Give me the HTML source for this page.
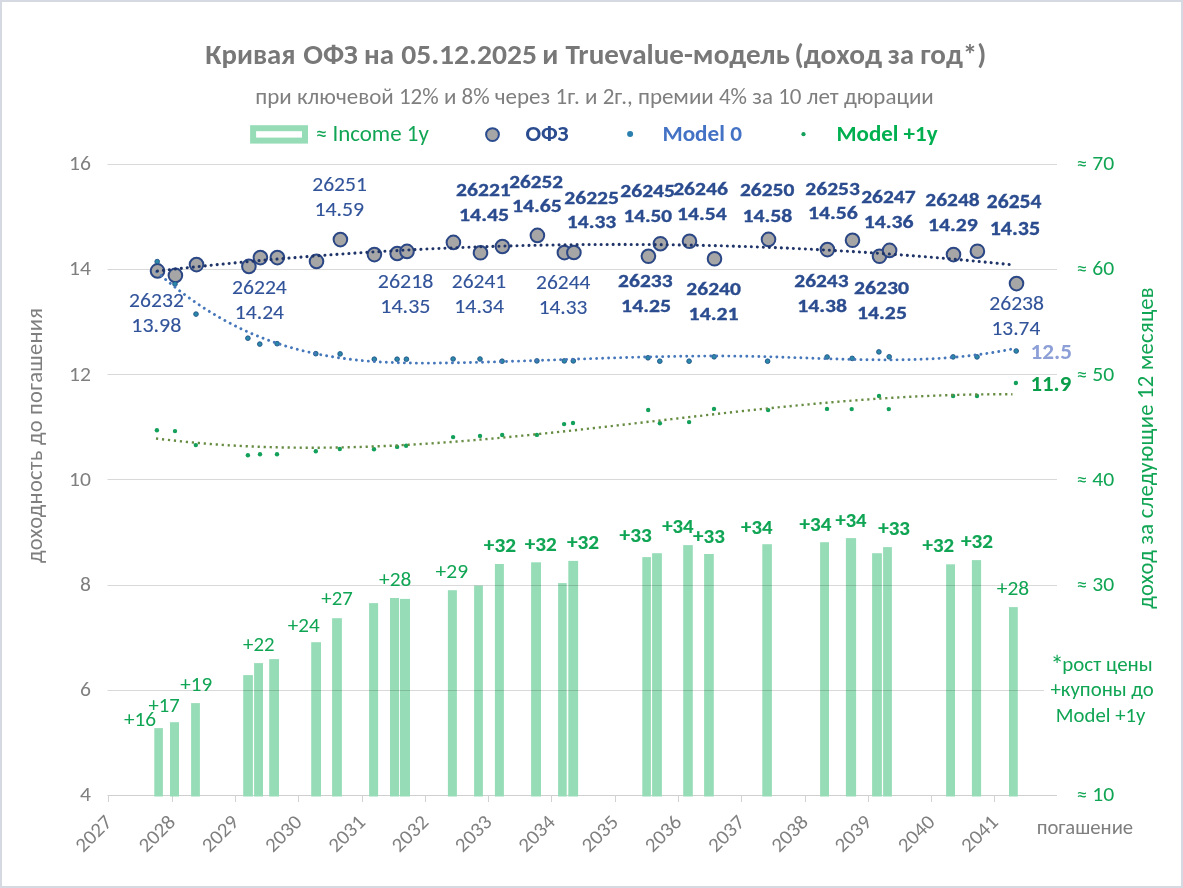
<!DOCTYPE html>
<html><head><meta charset="utf-8"><title>Кривая ОФЗ</title>
<style>html,body{margin:0;padding:0;background:#fff;}svg{display:block;}</style>
</head><body>
<svg width="1183" height="888" viewBox="0 0 1183 888" font-family="Calibri, Carlito, 'Liberation Sans', sans-serif">
<rect x="0" y="0" width="1183" height="888" fill="#ffffff"/>
<rect x="1" y="1" width="1181" height="886" fill="none" stroke="#d5dae2" stroke-width="2"/>
<line x1="107.5" y1="795.5" x2="1057.0" y2="795.5" stroke="#cfcfcf" stroke-width="1.1"/>
<line x1="108.5" y1="795.5" x2="108.5" y2="802.0" stroke="#d2d2d2" stroke-width="1"/>
<line x1="172.5" y1="795.5" x2="172.5" y2="802.0" stroke="#d2d2d2" stroke-width="1"/>
<line x1="235.5" y1="795.5" x2="235.5" y2="802.0" stroke="#d2d2d2" stroke-width="1"/>
<line x1="298.5" y1="795.5" x2="298.5" y2="802.0" stroke="#d2d2d2" stroke-width="1"/>
<line x1="362.5" y1="795.5" x2="362.5" y2="802.0" stroke="#d2d2d2" stroke-width="1"/>
<line x1="425.5" y1="795.5" x2="425.5" y2="802.0" stroke="#d2d2d2" stroke-width="1"/>
<line x1="488.5" y1="795.5" x2="488.5" y2="802.0" stroke="#d2d2d2" stroke-width="1"/>
<line x1="551.5" y1="795.5" x2="551.5" y2="802.0" stroke="#d2d2d2" stroke-width="1"/>
<line x1="615.5" y1="795.5" x2="615.5" y2="802.0" stroke="#d2d2d2" stroke-width="1"/>
<line x1="678.5" y1="795.5" x2="678.5" y2="802.0" stroke="#d2d2d2" stroke-width="1"/>
<line x1="741.5" y1="795.5" x2="741.5" y2="802.0" stroke="#d2d2d2" stroke-width="1"/>
<line x1="805.5" y1="795.5" x2="805.5" y2="802.0" stroke="#d2d2d2" stroke-width="1"/>
<line x1="868.5" y1="795.5" x2="868.5" y2="802.0" stroke="#d2d2d2" stroke-width="1"/>
<line x1="931.5" y1="795.5" x2="931.5" y2="802.0" stroke="#d2d2d2" stroke-width="1"/>
<line x1="994.5" y1="795.5" x2="994.5" y2="802.0" stroke="#d2d2d2" stroke-width="1"/>
<rect x="154.3" y="728.1" width="8.6" height="68.4" fill="#96ddb7"/>
<rect x="170.0" y="722.2" width="9.0" height="74.3" fill="#96ddb7"/>
<rect x="191.1" y="703.1" width="8.8" height="93.4" fill="#96ddb7"/>
<rect x="243.2" y="675.1" width="9.7" height="121.4" fill="#96ddb7"/>
<rect x="254.1" y="663.1" width="8.9" height="133.4" fill="#96ddb7"/>
<rect x="269.2" y="659.1" width="9.8" height="137.4" fill="#96ddb7"/>
<rect x="311.2" y="642.2" width="9.8" height="154.3" fill="#96ddb7"/>
<rect x="332.1" y="618.2" width="9.8" height="178.3" fill="#96ddb7"/>
<rect x="369.1" y="603.1" width="9.0" height="193.4" fill="#96ddb7"/>
<rect x="390.0" y="598.0" width="9.0" height="198.5" fill="#96ddb7"/>
<rect x="399.9" y="598.9" width="10.1" height="197.6" fill="#96ddb7"/>
<rect x="447.9" y="590.2" width="9.0" height="206.3" fill="#96ddb7"/>
<rect x="474.1" y="585.6" width="8.8" height="210.9" fill="#96ddb7"/>
<rect x="494.9" y="564.0" width="9.0" height="232.5" fill="#96ddb7"/>
<rect x="531.1" y="562.3" width="9.9" height="234.2" fill="#96ddb7"/>
<rect x="558.1" y="583.1" width="8.6" height="213.4" fill="#96ddb7"/>
<rect x="568.3" y="560.9" width="9.8" height="235.6" fill="#96ddb7"/>
<rect x="642.3" y="557.1" width="8.6" height="239.4" fill="#96ddb7"/>
<rect x="652.1" y="553.2" width="9.8" height="243.3" fill="#96ddb7"/>
<rect x="683.2" y="545.1" width="9.6" height="251.4" fill="#96ddb7"/>
<rect x="704.1" y="554.0" width="9.7" height="242.5" fill="#96ddb7"/>
<rect x="762.3" y="544.2" width="9.6" height="252.3" fill="#96ddb7"/>
<rect x="820.1" y="542.2" width="8.9" height="254.3" fill="#96ddb7"/>
<rect x="845.9" y="538.1" width="10.2" height="258.4" fill="#96ddb7"/>
<rect x="872.1" y="553.2" width="9.8" height="243.3" fill="#96ddb7"/>
<rect x="883.1" y="547.1" width="8.8" height="249.4" fill="#96ddb7"/>
<rect x="946.1" y="564.3" width="8.9" height="232.2" fill="#96ddb7"/>
<rect x="971.9" y="560.1" width="9.2" height="236.4" fill="#96ddb7"/>
<rect x="1009.0" y="607.1" width="8.8" height="189.4" fill="#96ddb7"/>
<line x1="107.5" y1="164.5" x2="1057.0" y2="164.5" stroke="#d9d9d9" stroke-width="1" style="mix-blend-mode:multiply"/>
<line x1="107.5" y1="269.5" x2="1057.0" y2="269.5" stroke="#d9d9d9" stroke-width="1" style="mix-blend-mode:multiply"/>
<line x1="107.5" y1="374.5" x2="1057.0" y2="374.5" stroke="#d9d9d9" stroke-width="1" style="mix-blend-mode:multiply"/>
<line x1="107.5" y1="479.5" x2="1057.0" y2="479.5" stroke="#d9d9d9" stroke-width="1" style="mix-blend-mode:multiply"/>
<line x1="107.5" y1="585.5" x2="1057.0" y2="585.5" stroke="#d9d9d9" stroke-width="1" style="mix-blend-mode:multiply"/>
<line x1="107.5" y1="690.5" x2="1044.0" y2="690.5" stroke="#d9d9d9" stroke-width="1" style="mix-blend-mode:multiply"/>
<text x="69.02" y="170.20" font-size="19.80" fill="#7f7f7f" stroke="#7f7f7f" stroke-width="0.00" textLength="21.88" lengthAdjust="spacingAndGlyphs">16</text>
<text x="69.02" y="275.40" font-size="19.80" fill="#7f7f7f" stroke="#7f7f7f" stroke-width="0.00" textLength="21.88" lengthAdjust="spacingAndGlyphs">14</text>
<text x="69.02" y="380.60" font-size="19.80" fill="#7f7f7f" stroke="#7f7f7f" stroke-width="0.00" textLength="21.88" lengthAdjust="spacingAndGlyphs">12</text>
<text x="69.02" y="485.80" font-size="19.80" fill="#7f7f7f" stroke="#7f7f7f" stroke-width="0.00" textLength="21.88" lengthAdjust="spacingAndGlyphs">10</text>
<text x="79.96" y="591.00" font-size="19.80" fill="#7f7f7f" stroke="#7f7f7f" stroke-width="0.00" textLength="10.94" lengthAdjust="spacingAndGlyphs">8</text>
<text x="79.96" y="696.20" font-size="19.80" fill="#7f7f7f" stroke="#7f7f7f" stroke-width="0.00" textLength="10.94" lengthAdjust="spacingAndGlyphs">6</text>
<text x="79.96" y="801.40" font-size="19.80" fill="#7f7f7f" stroke="#7f7f7f" stroke-width="0.00" textLength="10.94" lengthAdjust="spacingAndGlyphs">4</text>
<text x="1076.54" y="170.20" font-size="19.80" fill="#10a554" stroke="#10a554" stroke-width="0.00" textLength="37.62" lengthAdjust="spacingAndGlyphs">≈ 70</text>
<text x="1076.54" y="275.40" font-size="19.80" fill="#10a554" stroke="#10a554" stroke-width="0.00" textLength="37.62" lengthAdjust="spacingAndGlyphs">≈ 60</text>
<text x="1076.54" y="380.60" font-size="19.80" fill="#10a554" stroke="#10a554" stroke-width="0.00" textLength="37.62" lengthAdjust="spacingAndGlyphs">≈ 50</text>
<text x="1076.54" y="485.80" font-size="19.80" fill="#10a554" stroke="#10a554" stroke-width="0.00" textLength="37.62" lengthAdjust="spacingAndGlyphs">≈ 40</text>
<text x="1076.54" y="591.00" font-size="19.80" fill="#10a554" stroke="#10a554" stroke-width="0.00" textLength="37.62" lengthAdjust="spacingAndGlyphs">≈ 30</text>
<text x="1076.54" y="801.40" font-size="19.80" fill="#10a554" stroke="#10a554" stroke-width="0.00" textLength="37.62" lengthAdjust="spacingAndGlyphs">≈ 10</text>
<text transform="rotate(-90)" x="-562.92" y="41.80" font-size="22.60" fill="#7f7f7f" stroke="#7f7f7f" stroke-width="0.00" textLength="254.85" lengthAdjust="spacing">доходность до погашения</text>
<text transform="rotate(-90)" x="-608.72" y="1153.10" font-size="22.60" fill="#10a554" stroke="#10a554" stroke-width="0.00" textLength="321.27" lengthAdjust="spacing">доход за следующие 12 месяцев</text>
<text transform="translate(113.30 823.20) rotate(-45)" x="0" y="0" font-size="20.2" fill="#7f7f7f" stroke="#7f7f7f" stroke-width="0.00" text-anchor="end" textLength="42.59" lengthAdjust="spacingAndGlyphs">2027</text>
<text transform="translate(176.58 823.20) rotate(-45)" x="0" y="0" font-size="20.2" fill="#7f7f7f" stroke="#7f7f7f" stroke-width="0.00" text-anchor="end" textLength="42.59" lengthAdjust="spacingAndGlyphs">2028</text>
<text transform="translate(239.86 823.20) rotate(-45)" x="0" y="0" font-size="20.2" fill="#7f7f7f" stroke="#7f7f7f" stroke-width="0.00" text-anchor="end" textLength="42.59" lengthAdjust="spacingAndGlyphs">2029</text>
<text transform="translate(303.14 823.20) rotate(-45)" x="0" y="0" font-size="20.2" fill="#7f7f7f" stroke="#7f7f7f" stroke-width="0.00" text-anchor="end" textLength="42.59" lengthAdjust="spacingAndGlyphs">2030</text>
<text transform="translate(366.42 823.20) rotate(-45)" x="0" y="0" font-size="20.2" fill="#7f7f7f" stroke="#7f7f7f" stroke-width="0.00" text-anchor="end" textLength="42.59" lengthAdjust="spacingAndGlyphs">2031</text>
<text transform="translate(429.70 823.20) rotate(-45)" x="0" y="0" font-size="20.2" fill="#7f7f7f" stroke="#7f7f7f" stroke-width="0.00" text-anchor="end" textLength="42.59" lengthAdjust="spacingAndGlyphs">2032</text>
<text transform="translate(492.98 823.20) rotate(-45)" x="0" y="0" font-size="20.2" fill="#7f7f7f" stroke="#7f7f7f" stroke-width="0.00" text-anchor="end" textLength="42.59" lengthAdjust="spacingAndGlyphs">2033</text>
<text transform="translate(556.26 823.20) rotate(-45)" x="0" y="0" font-size="20.2" fill="#7f7f7f" stroke="#7f7f7f" stroke-width="0.00" text-anchor="end" textLength="42.59" lengthAdjust="spacingAndGlyphs">2034</text>
<text transform="translate(619.54 823.20) rotate(-45)" x="0" y="0" font-size="20.2" fill="#7f7f7f" stroke="#7f7f7f" stroke-width="0.00" text-anchor="end" textLength="42.59" lengthAdjust="spacingAndGlyphs">2035</text>
<text transform="translate(682.82 823.20) rotate(-45)" x="0" y="0" font-size="20.2" fill="#7f7f7f" stroke="#7f7f7f" stroke-width="0.00" text-anchor="end" textLength="42.59" lengthAdjust="spacingAndGlyphs">2036</text>
<text transform="translate(746.10 823.20) rotate(-45)" x="0" y="0" font-size="20.2" fill="#7f7f7f" stroke="#7f7f7f" stroke-width="0.00" text-anchor="end" textLength="42.59" lengthAdjust="spacingAndGlyphs">2037</text>
<text transform="translate(809.38 823.20) rotate(-45)" x="0" y="0" font-size="20.2" fill="#7f7f7f" stroke="#7f7f7f" stroke-width="0.00" text-anchor="end" textLength="42.59" lengthAdjust="spacingAndGlyphs">2038</text>
<text transform="translate(872.66 823.20) rotate(-45)" x="0" y="0" font-size="20.2" fill="#7f7f7f" stroke="#7f7f7f" stroke-width="0.00" text-anchor="end" textLength="42.59" lengthAdjust="spacingAndGlyphs">2039</text>
<text transform="translate(935.94 823.20) rotate(-45)" x="0" y="0" font-size="20.2" fill="#7f7f7f" stroke="#7f7f7f" stroke-width="0.00" text-anchor="end" textLength="42.59" lengthAdjust="spacingAndGlyphs">2040</text>
<text transform="translate(999.22 823.20) rotate(-45)" x="0" y="0" font-size="20.2" fill="#7f7f7f" stroke="#7f7f7f" stroke-width="0.00" text-anchor="end" textLength="42.59" lengthAdjust="spacingAndGlyphs">2041</text>
<text x="1036.63" y="833.50" font-size="20.50" fill="#7f7f7f" stroke="#7f7f7f" stroke-width="0.00" textLength="96.52" lengthAdjust="spacingAndGlyphs">погашение</text>
<text x="205.37" y="63.60" font-size="27.40" font-weight="bold" fill="#787878" stroke="#787878" stroke-width="0.00" textLength="90.18" lengthAdjust="spacingAndGlyphs">Кривая</text>
<text x="303.22" y="63.60" font-size="27.40" font-weight="bold" fill="#787878" stroke="#787878" stroke-width="0.00" textLength="54.62" lengthAdjust="spacingAndGlyphs">ОФЗ</text>
<text x="363.95" y="63.60" font-size="27.40" font-weight="bold" fill="#787878" stroke="#787878" stroke-width="0.00" textLength="30.05" lengthAdjust="spacingAndGlyphs">на</text>
<text x="401.19" y="63.60" font-size="27.40" font-weight="bold" fill="#787878" stroke="#787878" stroke-width="0.00" textLength="135.81" lengthAdjust="spacingAndGlyphs">05.12.2025</text>
<text x="542.27" y="63.60" font-size="27.40" font-weight="bold" fill="#787878" stroke="#787878" stroke-width="0.00" textLength="16.07" lengthAdjust="spacingAndGlyphs">и</text>
<text x="565.45" y="63.60" font-size="27.40" font-weight="bold" fill="#787878" stroke="#787878" stroke-width="0.00" textLength="224.43" lengthAdjust="spacingAndGlyphs">Truevalue-модель</text>
<text x="794.62" y="63.60" font-size="27.40" font-weight="bold" fill="#787878" stroke="#787878" stroke-width="0.00" textLength="87.59" lengthAdjust="spacingAndGlyphs">(доход</text>
<text x="887.80" y="63.60" font-size="27.40" font-weight="bold" fill="#787878" stroke="#787878" stroke-width="0.00" textLength="26.07" lengthAdjust="spacingAndGlyphs">за</text>
<text x="920.27" y="63.60" font-size="27.40" font-weight="bold" fill="#787878" stroke="#787878" stroke-width="0.00" textLength="66.09" lengthAdjust="spacingAndGlyphs">год*)</text>
<text x="255.28" y="103.80" font-size="22.60" fill="#7f7f7f" stroke="#7f7f7f" stroke-width="0.00" textLength="678.48" lengthAdjust="spacingAndGlyphs">при ключевой 12% и 8% через 1г. и 2г., премии 4% за 10 лет дюрации</text>
<rect x="253.1" y="128.2" width="51.9" height="12.4" fill="none" stroke="#96ddb7" stroke-width="6"/>
<text x="315.77" y="140.50" font-size="22.80" fill="#10a554" stroke="#10a554" stroke-width="0.00" textLength="113.09" lengthAdjust="spacingAndGlyphs">≈ Income 1y</text>
<circle cx="492.5" cy="134.6" r="6.4" fill="#a6a6a6" stroke="#2b4c8f" stroke-width="2"/>
<text x="525.46" y="140.50" font-size="22.80" font-weight="bold" fill="#2b4c8f" stroke="#2b4c8f" stroke-width="0.00" textLength="43.22" lengthAdjust="spacingAndGlyphs">ОФЗ</text>
<circle cx="630.1" cy="133.9" r="3.0" fill="#2a7fae"/>
<text x="662.43" y="140.80" font-size="22.80" font-weight="bold" fill="#4472c4" stroke="#4472c4" stroke-width="0.00" textLength="79.45" lengthAdjust="spacingAndGlyphs">Model 0</text>
<circle cx="803.5" cy="134.2" r="2.1" fill="#13a05a"/>
<text x="836.44" y="140.70" font-size="22.80" font-weight="bold" fill="#00b050" stroke="#00b050" stroke-width="0.00" textLength="101.17" lengthAdjust="spacingAndGlyphs">Model +1y</text>
<circle cx="157.5" cy="270.9" r="6.8" fill="#a6a6a6" stroke="#2b4785" stroke-width="2.0"/>
<circle cx="175.4" cy="275.4" r="6.8" fill="#a6a6a6" stroke="#2b4785" stroke-width="2.0"/>
<circle cx="196.5" cy="264.6" r="6.8" fill="#a6a6a6" stroke="#2b4785" stroke-width="2.0"/>
<circle cx="248.9" cy="266.4" r="6.8" fill="#a6a6a6" stroke="#2b4785" stroke-width="2.0"/>
<circle cx="260.4" cy="257.6" r="6.8" fill="#a6a6a6" stroke="#2b4785" stroke-width="2.0"/>
<circle cx="277.4" cy="257.6" r="6.8" fill="#a6a6a6" stroke="#2b4785" stroke-width="2.0"/>
<circle cx="316.5" cy="261.4" r="6.8" fill="#a6a6a6" stroke="#2b4785" stroke-width="2.0"/>
<circle cx="340.4" cy="239.6" r="6.8" fill="#a6a6a6" stroke="#2b4785" stroke-width="2.0"/>
<circle cx="374.4" cy="254.6" r="6.8" fill="#a6a6a6" stroke="#2b4785" stroke-width="2.0"/>
<circle cx="397.2" cy="253.5" r="6.8" fill="#a6a6a6" stroke="#2b4785" stroke-width="2.0"/>
<circle cx="407.0" cy="251.4" r="6.8" fill="#a6a6a6" stroke="#2b4785" stroke-width="2.0"/>
<circle cx="453.4" cy="242.4" r="6.8" fill="#a6a6a6" stroke="#2b4785" stroke-width="2.0"/>
<circle cx="480.5" cy="252.8" r="6.8" fill="#a6a6a6" stroke="#2b4785" stroke-width="2.0"/>
<circle cx="502.4" cy="246.5" r="6.8" fill="#a6a6a6" stroke="#2b4785" stroke-width="2.0"/>
<circle cx="537.4" cy="235.4" r="6.8" fill="#a6a6a6" stroke="#2b4785" stroke-width="2.0"/>
<circle cx="564.4" cy="252.6" r="6.8" fill="#a6a6a6" stroke="#2b4785" stroke-width="2.0"/>
<circle cx="573.9" cy="252.5" r="6.8" fill="#a6a6a6" stroke="#2b4785" stroke-width="2.0"/>
<circle cx="648.4" cy="256.3" r="6.8" fill="#a6a6a6" stroke="#2b4785" stroke-width="2.0"/>
<circle cx="660.4" cy="243.7" r="6.8" fill="#a6a6a6" stroke="#2b4785" stroke-width="2.0"/>
<circle cx="689.5" cy="241.3" r="6.8" fill="#a6a6a6" stroke="#2b4785" stroke-width="2.0"/>
<circle cx="714.5" cy="258.8" r="6.8" fill="#a6a6a6" stroke="#2b4785" stroke-width="2.0"/>
<circle cx="768.5" cy="239.4" r="6.8" fill="#a6a6a6" stroke="#2b4785" stroke-width="2.0"/>
<circle cx="827.4" cy="249.6" r="6.8" fill="#a6a6a6" stroke="#2b4785" stroke-width="2.0"/>
<circle cx="852.5" cy="240.3" r="6.8" fill="#a6a6a6" stroke="#2b4785" stroke-width="2.0"/>
<circle cx="879.5" cy="256.3" r="6.8" fill="#a6a6a6" stroke="#2b4785" stroke-width="2.0"/>
<circle cx="889.6" cy="250.4" r="6.8" fill="#a6a6a6" stroke="#2b4785" stroke-width="2.0"/>
<circle cx="953.5" cy="254.6" r="6.8" fill="#a6a6a6" stroke="#2b4785" stroke-width="2.0"/>
<circle cx="977.4" cy="251.2" r="6.8" fill="#a6a6a6" stroke="#2b4785" stroke-width="2.0"/>
<circle cx="1016.5" cy="283.6" r="6.8" fill="#a6a6a6" stroke="#2b4785" stroke-width="2.0"/>
<circle cx="157.2" cy="261.6" r="2.35" fill="#2a88a8" stroke="#22548a" stroke-width="0.9"/>
<circle cx="175.0" cy="284.0" r="2.35" fill="#2a88a8" stroke="#22548a" stroke-width="0.9"/>
<circle cx="196.0" cy="314.1" r="2.35" fill="#2a88a8" stroke="#22548a" stroke-width="0.9"/>
<circle cx="247.9" cy="338.2" r="2.35" fill="#2a88a8" stroke="#22548a" stroke-width="0.9"/>
<circle cx="259.8" cy="344.1" r="2.35" fill="#2a88a8" stroke="#22548a" stroke-width="0.9"/>
<circle cx="277.1" cy="343.7" r="2.35" fill="#2a88a8" stroke="#22548a" stroke-width="0.9"/>
<circle cx="315.8" cy="353.7" r="2.35" fill="#2a88a8" stroke="#22548a" stroke-width="0.9"/>
<circle cx="340.1" cy="353.9" r="2.35" fill="#2a88a8" stroke="#22548a" stroke-width="0.9"/>
<circle cx="374.3" cy="359.2" r="2.35" fill="#2a88a8" stroke="#22548a" stroke-width="0.9"/>
<circle cx="397.1" cy="359.2" r="2.35" fill="#2a88a8" stroke="#22548a" stroke-width="0.9"/>
<circle cx="406.4" cy="359.2" r="2.35" fill="#2a88a8" stroke="#22548a" stroke-width="0.9"/>
<circle cx="453.1" cy="359.0" r="2.35" fill="#2a88a8" stroke="#22548a" stroke-width="0.9"/>
<circle cx="480.0" cy="359.0" r="2.35" fill="#2a88a8" stroke="#22548a" stroke-width="0.9"/>
<circle cx="502.1" cy="361.2" r="2.35" fill="#2a88a8" stroke="#22548a" stroke-width="0.9"/>
<circle cx="536.9" cy="360.9" r="2.35" fill="#2a88a8" stroke="#22548a" stroke-width="0.9"/>
<circle cx="564.3" cy="360.9" r="2.35" fill="#2a88a8" stroke="#22548a" stroke-width="0.9"/>
<circle cx="573.3" cy="360.9" r="2.35" fill="#2a88a8" stroke="#22548a" stroke-width="0.9"/>
<circle cx="648.0" cy="357.8" r="2.35" fill="#2a88a8" stroke="#22548a" stroke-width="0.9"/>
<circle cx="659.8" cy="361.2" r="2.35" fill="#2a88a8" stroke="#22548a" stroke-width="0.9"/>
<circle cx="689.1" cy="361.2" r="2.35" fill="#2a88a8" stroke="#22548a" stroke-width="0.9"/>
<circle cx="714.1" cy="356.8" r="2.35" fill="#2a88a8" stroke="#22548a" stroke-width="0.9"/>
<circle cx="767.6" cy="361.2" r="2.35" fill="#2a88a8" stroke="#22548a" stroke-width="0.9"/>
<circle cx="827.1" cy="357.0" r="2.35" fill="#2a88a8" stroke="#22548a" stroke-width="0.9"/>
<circle cx="852.2" cy="358.4" r="2.35" fill="#2a88a8" stroke="#22548a" stroke-width="0.9"/>
<circle cx="878.9" cy="351.9" r="2.35" fill="#2a88a8" stroke="#22548a" stroke-width="0.9"/>
<circle cx="889.2" cy="356.8" r="2.35" fill="#2a88a8" stroke="#22548a" stroke-width="0.9"/>
<circle cx="953.1" cy="356.9" r="2.35" fill="#2a88a8" stroke="#22548a" stroke-width="0.9"/>
<circle cx="977.0" cy="356.9" r="2.35" fill="#2a88a8" stroke="#22548a" stroke-width="0.9"/>
<circle cx="1016.2" cy="351.0" r="2.35" fill="#2a88a8" stroke="#22548a" stroke-width="0.9"/>
<circle cx="156.9" cy="430.2" r="2.2" fill="#13a05a"/>
<circle cx="175.0" cy="431.1" r="2.2" fill="#13a05a"/>
<circle cx="195.8" cy="445.1" r="2.2" fill="#13a05a"/>
<circle cx="247.9" cy="455.2" r="2.2" fill="#13a05a"/>
<circle cx="260.0" cy="454.2" r="2.2" fill="#13a05a"/>
<circle cx="277.0" cy="454.2" r="2.2" fill="#13a05a"/>
<circle cx="315.8" cy="451.3" r="2.2" fill="#13a05a"/>
<circle cx="339.8" cy="449.0" r="2.2" fill="#13a05a"/>
<circle cx="374.0" cy="449.2" r="2.2" fill="#13a05a"/>
<circle cx="397.1" cy="446.9" r="2.2" fill="#13a05a"/>
<circle cx="406.1" cy="445.8" r="2.2" fill="#13a05a"/>
<circle cx="453.1" cy="437.1" r="2.2" fill="#13a05a"/>
<circle cx="480.0" cy="435.9" r="2.2" fill="#13a05a"/>
<circle cx="502.2" cy="435.0" r="2.2" fill="#13a05a"/>
<circle cx="536.9" cy="434.9" r="2.2" fill="#13a05a"/>
<circle cx="564.1" cy="424.1" r="2.2" fill="#13a05a"/>
<circle cx="573.0" cy="423.0" r="2.2" fill="#13a05a"/>
<circle cx="648.2" cy="410.0" r="2.2" fill="#13a05a"/>
<circle cx="659.9" cy="423.2" r="2.2" fill="#13a05a"/>
<circle cx="689.1" cy="422.1" r="2.2" fill="#13a05a"/>
<circle cx="714.0" cy="408.9" r="2.2" fill="#13a05a"/>
<circle cx="768.1" cy="410.1" r="2.2" fill="#13a05a"/>
<circle cx="827.0" cy="408.9" r="2.2" fill="#13a05a"/>
<circle cx="851.7" cy="409.1" r="2.2" fill="#13a05a"/>
<circle cx="879.0" cy="396.0" r="2.2" fill="#13a05a"/>
<circle cx="888.8" cy="409.1" r="2.2" fill="#13a05a"/>
<circle cx="953.1" cy="396.0" r="2.2" fill="#13a05a"/>
<circle cx="977.0" cy="396.0" r="2.2" fill="#13a05a"/>
<circle cx="1015.9" cy="383.0" r="2.2" fill="#13a05a"/>
<path d="M156.0 438.44 L158.9 438.80 L161.7 439.16 L164.6 439.50 L167.5 439.84 L170.3 440.17 L173.2 440.49 L176.1 440.81 L178.9 441.12 L181.8 441.42 L184.6 441.71 L187.5 441.99 L190.4 442.27 L193.2 442.54 L196.1 442.80 L199.0 443.05 L201.8 443.30 L204.7 443.54 L207.6 443.77 L210.4 444.00 L213.3 444.22 L216.2 444.43 L219.0 444.63 L221.9 444.83 L224.7 445.02 L227.6 445.20 L230.5 445.38 L233.3 445.55 L236.2 445.71 L239.1 445.87 L241.9 446.02 L244.8 446.16 L247.7 446.30 L250.5 446.43 L253.4 446.55 L256.3 446.67 L259.1 446.78 L262.0 446.88 L264.9 446.98 L267.7 447.07 L270.6 447.15 L273.4 447.23 L276.3 447.31 L279.2 447.37 L282.0 447.43 L284.9 447.49 L287.8 447.54 L290.6 447.58 L293.5 447.62 L296.4 447.65 L299.2 447.67 L302.1 447.69 L305.0 447.71 L307.8 447.71 L310.7 447.72 L313.6 447.71 L316.4 447.71 L319.3 447.69 L322.1 447.67 L325.0 447.65 L327.9 447.62 L330.7 447.58 L333.6 447.54 L336.5 447.50 L339.3 447.45 L342.2 447.39 L345.1 447.33 L347.9 447.27 L350.8 447.20 L353.7 447.12 L356.5 447.04 L359.4 446.96 L362.2 446.87 L365.1 446.77 L368.0 446.67 L370.8 446.57 L373.7 446.46 L376.6 446.35 L379.4 446.23 L382.3 446.11 L385.2 445.98 L388.0 445.85 L390.9 445.72 L393.8 445.58 L396.6 445.43 L399.5 445.29 L402.4 445.13 L405.2 444.98 L408.1 444.82 L410.9 444.66 L413.8 444.49 L416.7 444.32 L419.5 444.14 L422.4 443.96 L425.3 443.78 L428.1 443.59 L431.0 443.40 L433.9 443.21 L436.7 443.01 L439.6 442.81 L442.5 442.61 L445.3 442.40 L448.2 442.19 L451.0 441.98 L453.9 441.76 L456.8 441.54 L459.6 441.31 L462.5 441.09 L465.4 440.86 L468.2 440.62 L471.1 440.39 L474.0 440.15 L476.8 439.90 L479.7 439.66 L482.6 439.41 L485.4 439.16 L488.3 438.91 L491.2 438.65 L494.0 438.39 L496.9 438.13 L499.7 437.87 L502.6 437.60 L505.5 437.33 L508.3 437.06 L511.2 436.79 L514.1 436.51 L516.9 436.23 L519.8 435.95 L522.7 435.67 L525.5 435.39 L528.4 435.10 L531.3 434.81 L534.1 434.52 L537.0 434.23 L539.8 433.93 L542.7 433.64 L545.6 433.34 L548.4 433.04 L551.3 432.74 L554.2 432.43 L557.0 432.13 L559.9 431.82 L562.8 431.51 L565.6 431.20 L568.5 430.89 L571.4 430.58 L574.2 430.26 L577.1 429.95 L580.0 429.63 L582.8 429.32 L585.7 429.00 L588.5 428.68 L591.4 428.36 L594.3 428.03 L597.1 427.71 L600.0 427.39 L602.9 427.06 L605.7 426.74 L608.6 426.41 L611.5 426.08 L614.3 425.75 L617.2 425.43 L620.1 425.10 L622.9 424.77 L625.8 424.44 L628.7 424.11 L631.5 423.77 L634.4 423.44 L637.2 423.11 L640.1 422.78 L643.0 422.45 L645.8 422.11 L648.7 421.78 L651.6 421.45 L654.4 421.12 L657.3 420.78 L660.2 420.45 L663.0 420.12 L665.9 419.78 L668.8 419.45 L671.6 419.12 L674.5 418.79 L677.3 418.45 L680.2 418.12 L683.1 417.79 L685.9 417.46 L688.8 417.13 L691.7 416.80 L694.5 416.47 L697.4 416.14 L700.3 415.82 L703.1 415.49 L706.0 415.16 L708.9 414.84 L711.7 414.51 L714.6 414.19 L717.5 413.87 L720.3 413.54 L723.2 413.22 L726.0 412.90 L728.9 412.59 L731.8 412.27 L734.6 411.95 L737.5 411.64 L740.4 411.32 L743.2 411.01 L746.1 410.70 L749.0 410.39 L751.8 410.08 L754.7 409.78 L757.6 409.47 L760.4 409.17 L763.3 408.87 L766.1 408.57 L769.0 408.27 L771.9 407.98 L774.7 407.68 L777.6 407.39 L780.5 407.10 L783.3 406.81 L786.2 406.53 L789.1 406.24 L791.9 405.96 L794.8 405.68 L797.7 405.40 L800.5 405.13 L803.4 404.85 L806.3 404.58 L809.1 404.32 L812.0 404.05 L814.8 403.79 L817.7 403.53 L820.6 403.27 L823.4 403.01 L826.3 402.76 L829.2 402.51 L832.0 402.26 L834.9 402.02 L837.8 401.78 L840.6 401.54 L843.5 401.30 L846.4 401.07 L849.2 400.84 L852.1 400.62 L854.9 400.39 L857.8 400.17 L860.7 399.96 L863.5 399.74 L866.4 399.53 L869.3 399.33 L872.1 399.12 L875.0 398.92 L877.9 398.73 L880.7 398.53 L883.6 398.35 L886.5 398.16 L889.3 397.98 L892.2 397.80 L895.1 397.63 L897.9 397.46 L900.8 397.29 L903.6 397.13 L906.5 396.97 L909.4 396.82 L912.2 396.67 L915.1 396.52 L918.0 396.38 L920.8 396.24 L923.7 396.11 L926.6 395.98 L929.4 395.85 L932.3 395.73 L935.2 395.61 L938.0 395.50 L940.9 395.40 L943.8 395.29 L946.6 395.20 L949.5 395.10 L952.3 395.01 L955.2 394.93 L958.1 394.85 L960.9 394.78 L963.8 394.71 L966.7 394.64 L969.5 394.59 L972.4 394.53 L975.3 394.48 L978.1 394.44 L981.0 394.40 L983.9 394.37 L986.7 394.34 L989.6 394.32 L992.4 394.30 L995.3 394.29 L998.2 394.28 L1001.0 394.28 L1003.9 394.28 L1006.8 394.29 L1009.6 394.31 L1012.5 394.33" fill="none" stroke="#668c42" stroke-width="2.40" stroke-dasharray="2.2 3.8" stroke-linecap="butt"/>
<path d="M156.6 271.64 L159.5 274.19 L162.3 276.69 L165.2 279.14 L168.0 281.55 L170.9 283.91 L173.8 286.22 L176.6 288.50 L179.5 290.72 L182.3 292.91 L185.2 295.05 L188.1 297.14 L190.9 299.20 L193.8 301.21 L196.7 303.18 L199.5 305.11 L202.4 307.00 L205.2 308.85 L208.1 310.66 L211.0 312.42 L213.8 314.15 L216.7 315.84 L219.5 317.50 L222.4 319.11 L225.3 320.69 L228.1 322.23 L231.0 323.73 L233.8 325.20 L236.7 326.63 L239.6 328.03 L242.4 329.39 L245.3 330.71 L248.1 332.01 L251.0 333.27 L253.9 334.49 L256.7 335.68 L259.6 336.84 L262.5 337.97 L265.3 339.07 L268.2 340.13 L271.0 341.17 L273.9 342.17 L276.8 343.15 L279.6 344.09 L282.5 345.01 L285.3 345.90 L288.2 346.76 L291.1 347.59 L293.9 348.39 L296.8 349.17 L299.6 349.92 L302.5 350.65 L305.4 351.35 L308.2 352.02 L311.1 352.67 L313.9 353.30 L316.8 353.90 L319.7 354.47 L322.5 355.03 L325.4 355.56 L328.3 356.07 L331.1 356.56 L334.0 357.02 L336.8 357.47 L339.7 357.89 L342.6 358.30 L345.4 358.68 L348.3 359.05 L351.1 359.39 L354.0 359.72 L356.9 360.03 L359.7 360.32 L362.6 360.60 L365.4 360.86 L368.3 361.10 L371.2 361.33 L374.0 361.54 L376.9 361.73 L379.7 361.91 L382.6 362.08 L385.5 362.23 L388.3 362.37 L391.2 362.50 L394.1 362.61 L396.9 362.71 L399.8 362.80 L402.6 362.88 L405.5 362.95 L408.4 363.01 L411.2 363.06 L414.1 363.09 L416.9 363.12 L419.8 363.14 L422.7 363.15 L425.5 363.16 L428.4 363.15 L431.2 363.14 L434.1 363.13 L437.0 363.10 L439.8 363.07 L442.7 363.04 L445.5 363.00 L448.4 362.95 L451.3 362.91 L454.1 362.85 L457.0 362.80 L459.9 362.74 L462.7 362.68 L465.6 362.62 L468.4 362.55 L471.3 362.48 L474.2 362.41 L477.0 362.34 L479.9 362.27 L482.7 362.19 L485.6 362.12 L488.5 362.04 L491.3 361.96 L494.2 361.88 L497.0 361.79 L499.9 361.71 L502.8 361.62 L505.6 361.53 L508.5 361.44 L511.3 361.35 L514.2 361.26 L517.1 361.17 L519.9 361.07 L522.8 360.98 L525.7 360.88 L528.5 360.79 L531.4 360.69 L534.2 360.59 L537.1 360.50 L540.0 360.40 L542.8 360.30 L545.7 360.20 L548.5 360.10 L551.4 360.00 L554.3 359.90 L557.1 359.80 L560.0 359.69 L562.8 359.59 L565.7 359.49 L568.6 359.39 L571.4 359.29 L574.3 359.19 L577.1 359.09 L580.0 358.99 L582.9 358.90 L585.7 358.80 L588.6 358.70 L591.5 358.60 L594.3 358.51 L597.2 358.41 L600.0 358.32 L602.9 358.22 L605.8 358.13 L608.6 358.04 L611.5 357.95 L614.3 357.86 L617.2 357.77 L620.1 357.69 L622.9 357.60 L625.8 357.52 L628.6 357.44 L631.5 357.36 L634.4 357.28 L637.2 357.20 L640.1 357.13 L642.9 357.06 L645.8 356.98 L648.7 356.92 L651.5 356.85 L654.4 356.78 L657.3 356.72 L660.1 356.66 L663.0 356.60 L665.8 356.55 L668.7 356.50 L671.6 356.45 L674.4 356.40 L677.3 356.36 L680.1 356.31 L683.0 356.28 L685.9 356.24 L688.7 356.21 L691.6 356.18 L694.4 356.15 L697.3 356.13 L700.2 356.11 L703.0 356.09 L705.9 356.08 L708.7 356.07 L711.6 356.06 L714.5 356.06 L717.3 356.06 L720.2 356.06 L723.1 356.07 L725.9 356.08 L728.8 356.10 L731.6 356.12 L734.5 356.14 L737.4 356.17 L740.2 356.20 L743.1 356.24 L745.9 356.28 L748.8 356.33 L751.7 356.38 L754.5 356.43 L757.4 356.49 L760.2 356.56 L763.1 356.63 L766.0 356.70 L768.8 356.78 L771.7 356.85 L774.5 356.94 L777.4 357.02 L780.3 357.11 L783.1 357.20 L786.0 357.30 L788.9 357.39 L791.7 357.49 L794.6 357.59 L797.4 357.69 L800.3 357.79 L803.2 357.89 L806.0 357.99 L808.9 358.09 L811.7 358.19 L814.6 358.29 L817.5 358.39 L820.3 358.49 L823.2 358.59 L826.0 358.68 L828.9 358.78 L831.8 358.87 L834.6 358.96 L837.5 359.05 L840.3 359.13 L843.2 359.21 L846.1 359.29 L848.9 359.36 L851.8 359.43 L854.7 359.50 L857.5 359.56 L860.4 359.62 L863.2 359.67 L866.1 359.72 L869.0 359.76 L871.8 359.80 L874.7 359.83 L877.5 359.85 L880.4 359.87 L883.3 359.88 L886.1 359.88 L889.0 359.88 L891.8 359.87 L894.7 359.85 L897.6 359.82 L900.4 359.78 L903.3 359.74 L906.1 359.68 L909.0 359.62 L911.9 359.55 L914.7 359.47 L917.6 359.38 L920.5 359.27 L923.3 359.16 L926.2 359.04 L929.0 358.90 L931.9 358.76 L934.8 358.60 L937.6 358.43 L940.5 358.25 L943.3 358.06 L946.2 357.85 L949.1 357.63 L951.9 357.40 L954.8 357.16 L957.6 356.90 L960.5 356.62 L963.4 356.34 L966.2 356.04 L969.1 355.72 L971.9 355.39 L974.8 355.04 L977.7 354.68 L980.5 354.30 L983.4 353.91 L986.3 353.50 L989.1 353.07 L992.0 352.63 L994.8 352.17 L997.7 351.69 L1000.6 351.20 L1003.4 350.68 L1006.3 350.15 L1009.1 349.60 L1012.0 349.03" fill="none" stroke="#4577ba" stroke-width="2.90" stroke-dasharray="0.01 6.0" stroke-linecap="round"/>
<path d="M157.4 271.06 L160.3 270.73 L163.1 270.41 L166.0 270.09 L168.8 269.77 L171.7 269.45 L174.5 269.13 L177.4 268.81 L180.3 268.50 L183.1 268.19 L186.0 267.88 L188.8 267.57 L191.7 267.27 L194.6 266.96 L197.4 266.66 L200.3 266.36 L203.1 266.07 L206.0 265.77 L208.8 265.48 L211.7 265.19 L214.6 264.90 L217.4 264.61 L220.3 264.32 L223.1 264.04 L226.0 263.76 L228.9 263.48 L231.7 263.20 L234.6 262.93 L237.4 262.65 L240.3 262.38 L243.1 262.11 L246.0 261.85 L248.9 261.58 L251.7 261.32 L254.6 261.06 L257.4 260.80 L260.3 260.54 L263.2 260.28 L266.0 260.03 L268.9 259.78 L271.7 259.53 L274.6 259.28 L277.4 259.04 L280.3 258.79 L283.2 258.55 L286.0 258.31 L288.9 258.08 L291.7 257.84 L294.6 257.61 L297.5 257.38 L300.3 257.15 L303.2 256.92 L306.0 256.70 L308.9 256.47 L311.7 256.25 L314.6 256.03 L317.5 255.81 L320.3 255.60 L323.2 255.39 L326.0 255.18 L328.9 254.97 L331.7 254.76 L334.6 254.55 L337.5 254.35 L340.3 254.15 L343.2 253.95 L346.0 253.76 L348.9 253.56 L351.8 253.37 L354.6 253.18 L357.5 252.99 L360.3 252.80 L363.2 252.62 L366.0 252.43 L368.9 252.25 L371.8 252.07 L374.6 251.90 L377.5 251.72 L380.3 251.55 L383.2 251.38 L386.1 251.21 L388.9 251.05 L391.8 250.88 L394.6 250.72 L397.5 250.56 L400.3 250.40 L403.2 250.25 L406.1 250.09 L408.9 249.94 L411.8 249.79 L414.6 249.64 L417.5 249.50 L420.4 249.35 L423.2 249.21 L426.1 249.07 L428.9 248.93 L431.8 248.80 L434.6 248.66 L437.5 248.53 L440.4 248.40 L443.2 248.27 L446.1 248.15 L448.9 248.03 L451.8 247.90 L454.7 247.79 L457.5 247.67 L460.4 247.55 L463.2 247.44 L466.1 247.33 L468.9 247.22 L471.8 247.11 L474.7 247.01 L477.5 246.91 L480.4 246.80 L483.2 246.71 L486.1 246.61 L489.0 246.52 L491.8 246.42 L494.7 246.33 L497.5 246.24 L500.4 246.16 L503.2 246.07 L506.1 245.99 L509.0 245.91 L511.8 245.83 L514.7 245.76 L517.5 245.68 L520.4 245.61 L523.2 245.54 L526.1 245.48 L529.0 245.41 L531.8 245.35 L534.7 245.28 L537.5 245.23 L540.4 245.17 L543.3 245.11 L546.1 245.06 L549.0 245.01 L551.8 244.96 L554.7 244.91 L557.5 244.87 L560.4 244.83 L563.3 244.79 L566.1 244.75 L569.0 244.71 L571.8 244.68 L574.7 244.64 L577.6 244.61 L580.4 244.59 L583.3 244.56 L586.1 244.54 L589.0 244.52 L591.8 244.50 L594.7 244.48 L597.6 244.46 L600.4 244.45 L603.3 244.44 L606.1 244.43 L609.0 244.42 L611.9 244.42 L614.7 244.41 L617.6 244.41 L620.4 244.41 L623.3 244.42 L626.1 244.42 L629.0 244.43 L631.9 244.44 L634.7 244.45 L637.6 244.47 L640.4 244.48 L643.3 244.50 L646.2 244.52 L649.0 244.54 L651.9 244.57 L654.7 244.59 L657.6 244.62 L660.4 244.65 L663.3 244.69 L666.2 244.72 L669.0 244.76 L671.9 244.80 L674.7 244.84 L677.6 244.88 L680.4 244.93 L683.3 244.98 L686.2 245.03 L689.0 245.08 L691.9 245.13 L694.7 245.19 L697.6 245.25 L700.5 245.31 L703.3 245.37 L706.2 245.44 L709.0 245.50 L711.9 245.57 L714.7 245.64 L717.6 245.72 L720.5 245.79 L723.3 245.87 L726.2 245.95 L729.0 246.03 L731.9 246.11 L734.8 246.20 L737.6 246.29 L740.5 246.38 L743.3 246.47 L746.2 246.56 L749.0 246.66 L751.9 246.76 L754.8 246.86 L757.6 246.96 L760.5 247.07 L763.3 247.18 L766.2 247.29 L769.1 247.40 L771.9 247.51 L774.8 247.63 L777.6 247.75 L780.5 247.87 L783.3 247.99 L786.2 248.11 L789.1 248.24 L791.9 248.37 L794.8 248.50 L797.6 248.63 L800.5 248.77 L803.4 248.90 L806.2 249.04 L809.1 249.19 L811.9 249.33 L814.8 249.48 L817.6 249.62 L820.5 249.77 L823.4 249.93 L826.2 250.08 L829.1 250.24 L831.9 250.40 L834.8 250.56 L837.7 250.72 L840.5 250.89 L843.4 251.05 L846.2 251.22 L849.1 251.39 L851.9 251.57 L854.8 251.74 L857.7 251.92 L860.5 252.10 L863.4 252.29 L866.2 252.47 L869.1 252.66 L871.9 252.85 L874.8 253.04 L877.7 253.23 L880.5 253.43 L883.4 253.63 L886.2 253.83 L889.1 254.03 L892.0 254.23 L894.8 254.44 L897.7 254.65 L900.5 254.86 L903.4 255.07 L906.2 255.29 L909.1 255.50 L912.0 255.72 L914.8 255.94 L917.7 256.17 L920.5 256.39 L923.4 256.62 L926.3 256.85 L929.1 257.09 L932.0 257.32 L934.8 257.56 L937.7 257.80 L940.5 258.04 L943.4 258.28 L946.3 258.53 L949.1 258.78 L952.0 259.03 L954.8 259.28 L957.7 259.53 L960.6 259.79 L963.4 260.05 L966.3 260.31 L969.1 260.57 L972.0 260.84 L974.8 261.11 L977.7 261.38 L980.6 261.65 L983.4 261.92 L986.3 262.20 L989.1 262.48 L992.0 262.76 L994.9 263.04 L997.7 263.33 L1000.6 263.61 L1003.4 263.90 L1006.3 264.19 L1009.1 264.49 L1012.0 264.79" fill="none" stroke="#1f3468" stroke-width="3.10" stroke-dasharray="0.01 6.0" stroke-linecap="round"/>
<text x="123.92" y="725.60" font-size="19.80" fill="#10a554" stroke="#10a554" stroke-width="0.00" textLength="32.11" lengthAdjust="spacingAndGlyphs">+16</text>
<text x="148.44" y="712.10" font-size="19.80" fill="#10a554" stroke="#10a554" stroke-width="0.00" textLength="31.23" lengthAdjust="spacingAndGlyphs">+17</text>
<text x="180.23" y="691.30" font-size="19.80" fill="#10a554" stroke="#10a554" stroke-width="0.00" textLength="31.90" lengthAdjust="spacingAndGlyphs">+19</text>
<text x="243.03" y="651.30" font-size="19.80" fill="#10a554" stroke="#10a554" stroke-width="0.00" textLength="31.45" lengthAdjust="spacingAndGlyphs">+22</text>
<text x="287.83" y="632.40" font-size="19.80" fill="#10a554" stroke="#10a554" stroke-width="0.00" textLength="31.82" lengthAdjust="spacingAndGlyphs">+24</text>
<text x="321.33" y="604.50" font-size="19.80" fill="#10a554" stroke="#10a554" stroke-width="0.00" textLength="31.44" lengthAdjust="spacingAndGlyphs">+27</text>
<text x="379.12" y="586.20" font-size="19.80" fill="#10a554" stroke="#10a554" stroke-width="0.00" textLength="32.34" lengthAdjust="spacingAndGlyphs">+28</text>
<text x="435.62" y="578.00" font-size="19.80" fill="#10a554" stroke="#10a554" stroke-width="0.00" textLength="32.41" lengthAdjust="spacingAndGlyphs">+29</text>
<text x="483.82" y="552.30" font-size="19.80" font-weight="bold" fill="#10a554" stroke="#10a554" stroke-width="0.15" textLength="32.12" lengthAdjust="spacingAndGlyphs">+32</text>
<text x="524.82" y="551.40" font-size="19.80" font-weight="bold" fill="#10a554" stroke="#10a554" stroke-width="0.15" textLength="32.02" lengthAdjust="spacingAndGlyphs">+32</text>
<text x="567.02" y="548.90" font-size="19.80" font-weight="bold" fill="#10a554" stroke="#10a554" stroke-width="0.15" textLength="32.12" lengthAdjust="spacingAndGlyphs">+32</text>
<text x="619.62" y="541.80" font-size="19.80" font-weight="bold" fill="#10a554" stroke="#10a554" stroke-width="0.15" textLength="32.07" lengthAdjust="spacingAndGlyphs">+33</text>
<text x="662.22" y="532.90" font-size="19.80" font-weight="bold" fill="#10a554" stroke="#10a554" stroke-width="0.15" textLength="31.39" lengthAdjust="spacingAndGlyphs">+34</text>
<text x="693.12" y="542.70" font-size="19.80" font-weight="bold" fill="#10a554" stroke="#10a554" stroke-width="0.15" textLength="31.76" lengthAdjust="spacingAndGlyphs">+33</text>
<text x="741.13" y="533.90" font-size="19.80" font-weight="bold" fill="#10a554" stroke="#10a554" stroke-width="0.15" textLength="31.29" lengthAdjust="spacingAndGlyphs">+34</text>
<text x="799.62" y="531.20" font-size="19.80" font-weight="bold" fill="#10a554" stroke="#10a554" stroke-width="0.15" textLength="31.80" lengthAdjust="spacingAndGlyphs">+34</text>
<text x="835.43" y="526.60" font-size="19.80" font-weight="bold" fill="#10a554" stroke="#10a554" stroke-width="0.15" textLength="31.08" lengthAdjust="spacingAndGlyphs">+34</text>
<text x="878.22" y="535.10" font-size="19.80" font-weight="bold" fill="#10a554" stroke="#10a554" stroke-width="0.15" textLength="31.66" lengthAdjust="spacingAndGlyphs">+33</text>
<text x="922.52" y="552.00" font-size="19.80" font-weight="bold" fill="#10a554" stroke="#10a554" stroke-width="0.15" textLength="31.50" lengthAdjust="spacingAndGlyphs">+32</text>
<text x="960.92" y="548.40" font-size="19.80" font-weight="bold" fill="#10a554" stroke="#10a554" stroke-width="0.15" textLength="32.02" lengthAdjust="spacingAndGlyphs">+32</text>
<text x="996.82" y="594.90" font-size="19.80" fill="#10a554" stroke="#10a554" stroke-width="0.00" textLength="32.44" lengthAdjust="spacingAndGlyphs">+28</text>
<text x="129.13" y="307.00" font-size="19.40" fill="#31539a" stroke="#31539a" stroke-width="0.10" textLength="54.69" lengthAdjust="spacingAndGlyphs">26232</text>
<text x="131.30" y="331.60" font-size="19.40" fill="#31539a" stroke="#31539a" stroke-width="0.10" textLength="50.08" lengthAdjust="spacingAndGlyphs">13.98</text>
<text x="231.93" y="294.40" font-size="19.40" fill="#31539a" stroke="#31539a" stroke-width="0.10" textLength="54.93" lengthAdjust="spacingAndGlyphs">26224</text>
<text x="234.83" y="319.20" font-size="19.40" fill="#31539a" stroke="#31539a" stroke-width="0.10" textLength="49.22" lengthAdjust="spacingAndGlyphs">14.24</text>
<text x="312.23" y="191.10" font-size="19.40" fill="#31539a" stroke="#31539a" stroke-width="0.10" textLength="54.64" lengthAdjust="spacingAndGlyphs">26251</text>
<text x="314.52" y="216.00" font-size="19.40" fill="#31539a" stroke="#31539a" stroke-width="0.10" textLength="49.63" lengthAdjust="spacingAndGlyphs">14.59</text>
<text x="377.81" y="287.80" font-size="19.40" fill="#31539a" stroke="#31539a" stroke-width="0.10" textLength="55.67" lengthAdjust="spacingAndGlyphs">26218</text>
<text x="380.30" y="312.60" font-size="19.40" fill="#31539a" stroke="#31539a" stroke-width="0.10" textLength="50.20" lengthAdjust="spacingAndGlyphs">14.35</text>
<text x="451.84" y="287.80" font-size="19.40" fill="#31539a" stroke="#31539a" stroke-width="0.10" textLength="54.33" lengthAdjust="spacingAndGlyphs">26241</text>
<text x="454.32" y="312.60" font-size="19.40" fill="#31539a" stroke="#31539a" stroke-width="0.10" textLength="49.64" lengthAdjust="spacingAndGlyphs">14.34</text>
<text x="536.14" y="289.00" font-size="19.40" fill="#31539a" stroke="#31539a" stroke-width="0.10" textLength="54.22" lengthAdjust="spacingAndGlyphs">26244</text>
<text x="538.65" y="313.70" font-size="19.40" fill="#31539a" stroke="#31539a" stroke-width="0.10" textLength="48.76" lengthAdjust="spacingAndGlyphs">14.33</text>
<text x="989.23" y="309.80" font-size="19.40" fill="#31539a" stroke="#31539a" stroke-width="0.10" textLength="54.84" lengthAdjust="spacingAndGlyphs">26238</text>
<text x="991.55" y="335.00" font-size="19.40" fill="#31539a" stroke="#31539a" stroke-width="0.10" textLength="48.70" lengthAdjust="spacingAndGlyphs">13.74</text>
<text x="456.07" y="195.90" font-size="19.00" font-weight="bold" fill="#2b4c8f" stroke="#2b4c8f" stroke-width="0.35" textLength="54.74" lengthAdjust="spacingAndGlyphs">26221</text>
<text x="459.04" y="220.50" font-size="19.00" font-weight="bold" fill="#2b4c8f" stroke="#2b4c8f" stroke-width="0.35" textLength="50.07" lengthAdjust="spacingAndGlyphs">14.45</text>
<text x="509.28" y="187.50" font-size="19.00" font-weight="bold" fill="#2b4c8f" stroke="#2b4c8f" stroke-width="0.35" textLength="53.85" lengthAdjust="spacingAndGlyphs">26252</text>
<text x="511.95" y="212.30" font-size="19.00" font-weight="bold" fill="#2b4c8f" stroke="#2b4c8f" stroke-width="0.35" textLength="49.86" lengthAdjust="spacingAndGlyphs">14.65</text>
<text x="564.27" y="203.90" font-size="19.00" font-weight="bold" fill="#2b4c8f" stroke="#2b4c8f" stroke-width="0.35" textLength="54.72" lengthAdjust="spacingAndGlyphs">26225</text>
<text x="566.86" y="228.40" font-size="19.00" font-weight="bold" fill="#2b4c8f" stroke="#2b4c8f" stroke-width="0.35" textLength="49.44" lengthAdjust="spacingAndGlyphs">14.33</text>
<text x="620.27" y="197.10" font-size="19.00" font-weight="bold" fill="#2b4c8f" stroke="#2b4c8f" stroke-width="0.35" textLength="54.72" lengthAdjust="spacingAndGlyphs">26245</text>
<text x="623.48" y="221.60" font-size="19.00" font-weight="bold" fill="#2b4c8f" stroke="#2b4c8f" stroke-width="0.35" textLength="48.65" lengthAdjust="spacingAndGlyphs">14.50</text>
<text x="673.17" y="195.10" font-size="19.00" font-weight="bold" fill="#2b4c8f" stroke="#2b4c8f" stroke-width="0.35" textLength="54.80" lengthAdjust="spacingAndGlyphs">26246</text>
<text x="677.05" y="219.90" font-size="19.00" font-weight="bold" fill="#2b4c8f" stroke="#2b4c8f" stroke-width="0.35" textLength="49.57" lengthAdjust="spacingAndGlyphs">14.54</text>
<text x="739.98" y="195.90" font-size="19.00" font-weight="bold" fill="#2b4c8f" stroke="#2b4c8f" stroke-width="0.35" textLength="54.36" lengthAdjust="spacingAndGlyphs">26250</text>
<text x="742.45" y="221.60" font-size="19.00" font-weight="bold" fill="#2b4c8f" stroke="#2b4c8f" stroke-width="0.35" textLength="49.90" lengthAdjust="spacingAndGlyphs">14.58</text>
<text x="805.38" y="194.60" font-size="19.00" font-weight="bold" fill="#2b4c8f" stroke="#2b4c8f" stroke-width="0.35" textLength="54.52" lengthAdjust="spacingAndGlyphs">26253</text>
<text x="807.95" y="219.40" font-size="19.00" font-weight="bold" fill="#2b4c8f" stroke="#2b4c8f" stroke-width="0.35" textLength="49.83" lengthAdjust="spacingAndGlyphs">14.56</text>
<text x="861.18" y="202.50" font-size="19.00" font-weight="bold" fill="#2b4c8f" stroke="#2b4c8f" stroke-width="0.35" textLength="54.49" lengthAdjust="spacingAndGlyphs">26247</text>
<text x="863.75" y="227.60" font-size="19.00" font-weight="bold" fill="#2b4c8f" stroke="#2b4c8f" stroke-width="0.35" textLength="49.83" lengthAdjust="spacingAndGlyphs">14.36</text>
<text x="925.38" y="206.40" font-size="19.00" font-weight="bold" fill="#2b4c8f" stroke="#2b4c8f" stroke-width="0.35" textLength="54.26" lengthAdjust="spacingAndGlyphs">26248</text>
<text x="928.05" y="231.30" font-size="19.00" font-weight="bold" fill="#2b4c8f" stroke="#2b4c8f" stroke-width="0.35" textLength="49.71" lengthAdjust="spacingAndGlyphs">14.29</text>
<text x="986.87" y="207.80" font-size="21.00" font-weight="bold" fill="#2b4c8f" stroke="#2b4c8f" stroke-width="0.35" textLength="54.55" lengthAdjust="spacingAndGlyphs">26254</text>
<text x="989.73" y="234.60" font-size="21.00" font-weight="bold" fill="#2b4c8f" stroke="#2b4c8f" stroke-width="0.35" textLength="50.38" lengthAdjust="spacingAndGlyphs">14.35</text>
<text x="618.08" y="287.00" font-size="19.00" font-weight="bold" fill="#2b4c8f" stroke="#2b4c8f" stroke-width="0.35" textLength="54.52" lengthAdjust="spacingAndGlyphs">26233</text>
<text x="621.14" y="311.50" font-size="19.00" font-weight="bold" fill="#2b4c8f" stroke="#2b4c8f" stroke-width="0.35" textLength="49.96" lengthAdjust="spacingAndGlyphs">14.25</text>
<text x="686.38" y="295.00" font-size="19.00" font-weight="bold" fill="#2b4c8f" stroke="#2b4c8f" stroke-width="0.35" textLength="54.46" lengthAdjust="spacingAndGlyphs">26240</text>
<text x="688.64" y="319.80" font-size="19.00" font-weight="bold" fill="#2b4c8f" stroke="#2b4c8f" stroke-width="0.35" textLength="49.98" lengthAdjust="spacingAndGlyphs">14.21</text>
<text x="794.28" y="286.90" font-size="19.00" font-weight="bold" fill="#2b4c8f" stroke="#2b4c8f" stroke-width="0.35" textLength="54.32" lengthAdjust="spacingAndGlyphs">26243</text>
<text x="797.25" y="311.70" font-size="19.00" font-weight="bold" fill="#2b4c8f" stroke="#2b4c8f" stroke-width="0.35" textLength="49.69" lengthAdjust="spacingAndGlyphs">14.38</text>
<text x="854.07" y="293.80" font-size="19.00" font-weight="bold" fill="#2b4c8f" stroke="#2b4c8f" stroke-width="0.35" textLength="54.98" lengthAdjust="spacingAndGlyphs">26230</text>
<text x="857.05" y="318.80" font-size="19.00" font-weight="bold" fill="#2b4c8f" stroke="#2b4c8f" stroke-width="0.35" textLength="49.86" lengthAdjust="spacingAndGlyphs">14.25</text>
<text x="1030.45" y="358.60" font-size="21.40" font-weight="bold" fill="#8c9fd6" stroke="#8c9fd6" stroke-width="0.00" textLength="41.53" lengthAdjust="spacingAndGlyphs">12.5</text>
<text x="1030.47" y="390.80" font-size="21.40" font-weight="bold" fill="#0b9e4a" stroke="#0b9e4a" stroke-width="0.00" textLength="40.82" lengthAdjust="spacingAndGlyphs">11.9</text>
<rect x="1044" y="648" width="118" height="82" fill="#ffffff"/>
<text x="1050.48" y="674.30" font-size="25.60" fill="#10a554" stroke="#10a554" stroke-width="0.00" textLength="13.27" lengthAdjust="spacingAndGlyphs">*</text>
<text x="1062.26" y="670.60" font-size="20.50" fill="#10a554" stroke="#10a554" stroke-width="0.00" textLength="90.48" lengthAdjust="spacingAndGlyphs">рост цены</text>
<text x="1050.43" y="695.60" font-size="20.50" fill="#10a554" stroke="#10a554" stroke-width="0.00" textLength="103.33" lengthAdjust="spacingAndGlyphs">+купоны до</text>
<text x="1055.81" y="721.80" font-size="20.50" fill="#10a554" stroke="#10a554" stroke-width="0.00" textLength="89.63" lengthAdjust="spacingAndGlyphs">Model +1y</text>
</svg>
</body></html>
